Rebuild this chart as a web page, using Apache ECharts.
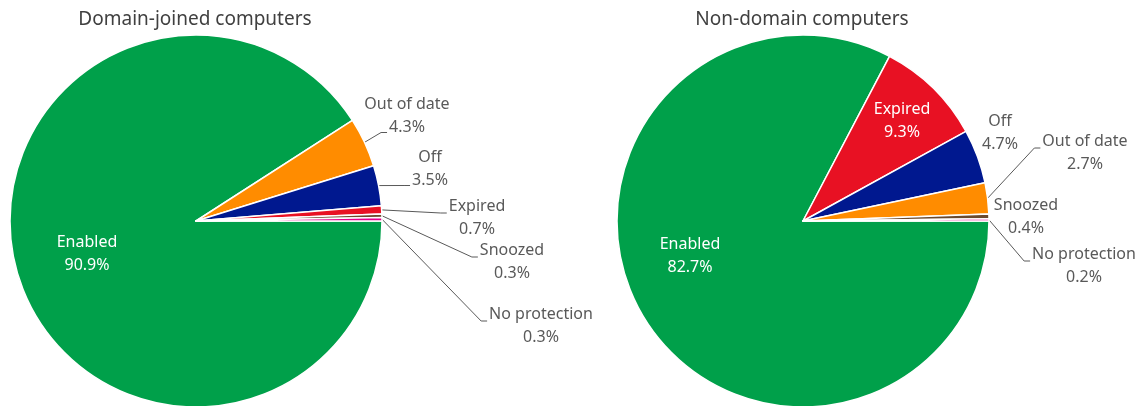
<!DOCTYPE html>
<html>
<head>
<meta charset="utf-8">
<script src="https://cdn.jsdelivr.net/npm/echarts@6/dist/echarts.min.js"></script>
<style>
  html, body { margin: 0; padding: 0; background: #fff; }
  #main { width: 1141px; height: 406px; }
</style>
</head>
<body>
<div id="main"></div>
<script>
// data
const titles = ['Domain-joined computers', 'Non-domain computers']
const domainNames = ['Enabled', 'Out of date', 'Off', 'Expired', 'Snoozed', 'No protection']
const domainValues = [90.9, 4.3, 3.5, 0.7, 0.3, 0.3]
const nonDomainNames = ['Enabled', 'Expired', 'Off', 'Out of date', 'Snoozed', 'No protection']
const nonDomainValues = [82.7, 9.3, 4.7, 2.7, 0.4, 0.2]

const colors = {
  'Enabled': '#00A04A',
  'Out of date': '#FF8C00',
  'Off': '#00188F',
  'Expired': '#E81123',
  'Snoozed': '#6B4A2E',
  'No protection': '#E3008C',
}
const font = '"Noto Sans", "Open Sans", sans-serif'
const fontSize = 16
const lineH = 23

// where each label block is centred (layout only)
const labelPos = [
  {
    'Enabled': [87, 254],
    'Out of date': [407, 116],
    'Off': [430, 169],
    'Expired': [477, 218],
    'Snoozed': [512, 262],
    'No protection': [541, 326],
  },
  {
    'Enabled': [690, 256],
    'Expired': [902, 121],
    'Off': [1000, 133],
    'Out of date': [1085, 153],
    'Snoozed': [1026, 217],
    'No protection': [1084, 266],
  },
]
const insideLabels = [['Enabled'], ['Enabled', 'Expired']]
const noLine = [[], ['Off', 'Snoozed']]
// leader line meets the label at its first line or at its last (percent) line
const lineTo = [
  { 'Out of date': 'last', 'Off': 'last' },
  {},
]

const measure = document.createElement('canvas').getContext('2d')
measure.font = fontSize + 'px ' + font
const pct = v => v.toFixed(1) + '%'

function buildData(names, values, idx) {
  return names.map((n, i) => {
    const inside = insideLabels[idx].includes(n)
    return {
      name: n,
      value: values[i],
      itemStyle: { color: colors[n] },
      label: inside ? { position: 'inside', color: '#fff' } : { position: 'outside', color: '#595959' },
      labelLine: { show: !inside && !noLine[idx].includes(n) },
    }
  })
}

function makeSeries(names, values, idx, cx) {
  return {
    type: 'pie',
    center: [cx, 221],
    radius: 186,
    startAngle: 0,
    clockwise: true,
    avoidLabelOverlap: false,
    itemStyle: { borderColor: '#fff', borderWidth: 1.5 },
    label: {
      fontFamily: font,
      formatter: p => '{a|' + p.name + '}\n{a|' + pct(p.value) + '}',
      rich: {
        a: { fontFamily: font, fontSize: fontSize, lineHeight: lineH, align: 'center' },
      },
    },
    labelLine: {
      length: 10,
      length2: 10,
      lineStyle: { color: '#595959', width: 1 },
    },
    labelLayout: p => {
      const n = names[p.dataIndex]
      const pos = labelPos[idx][n]
      const out = { x: pos[0], y: pos[1], align: 'center', verticalAlign: 'middle' }
      const pts = p.labelLinePoints
      if (pts && !insideLabels[idx].includes(n) && !noLine[idx].includes(n)) {
        const w = p.labelRect.width
        const h = p.labelRect.height
        const left = pos[0] - w / 2
        const top = pos[1] - h / 2
        let ex, ey
        if (lineTo[idx][n] === 'last') {
          ex = pos[0] - measure.measureText(pct(values[p.dataIndex])).width / 2 - 2
          ey = top + h - 3
        } else {
          ex = left - 2
          ey = top + lineH / 2 + 3
        }
        out.labelLinePoints = [pts[0], [Math.max(ex - 6, pts[0][0]), ey], [ex, ey]]
      }
      return out
    },
    emphasis: { disabled: true },
    data: buildData(names, values, idx),
  }
}

const option = {
  animation: false,
  title: [
    { text: titles[0], left: 190, top: 5, textAlign: 'center',
      textStyle: { fontFamily: font, fontSize: 19, fontWeight: 'normal', color: '#404040' } },
    { text: titles[1], left: 797, top: 5, textAlign: 'center',
      textStyle: { fontFamily: font, fontSize: 19, fontWeight: 'normal', color: '#404040' } },
  ],
  series: [
    makeSeries(domainNames, domainValues, 0, 196),
    makeSeries(nonDomainNames, nonDomainValues, 1, 803),
  ],
}

const chart = echarts.init(document.getElementById('main'))
chart.setOption(option)
window.addEventListener('resize', function () {
  chart.resize()
})
</script>
</body>
</html>
